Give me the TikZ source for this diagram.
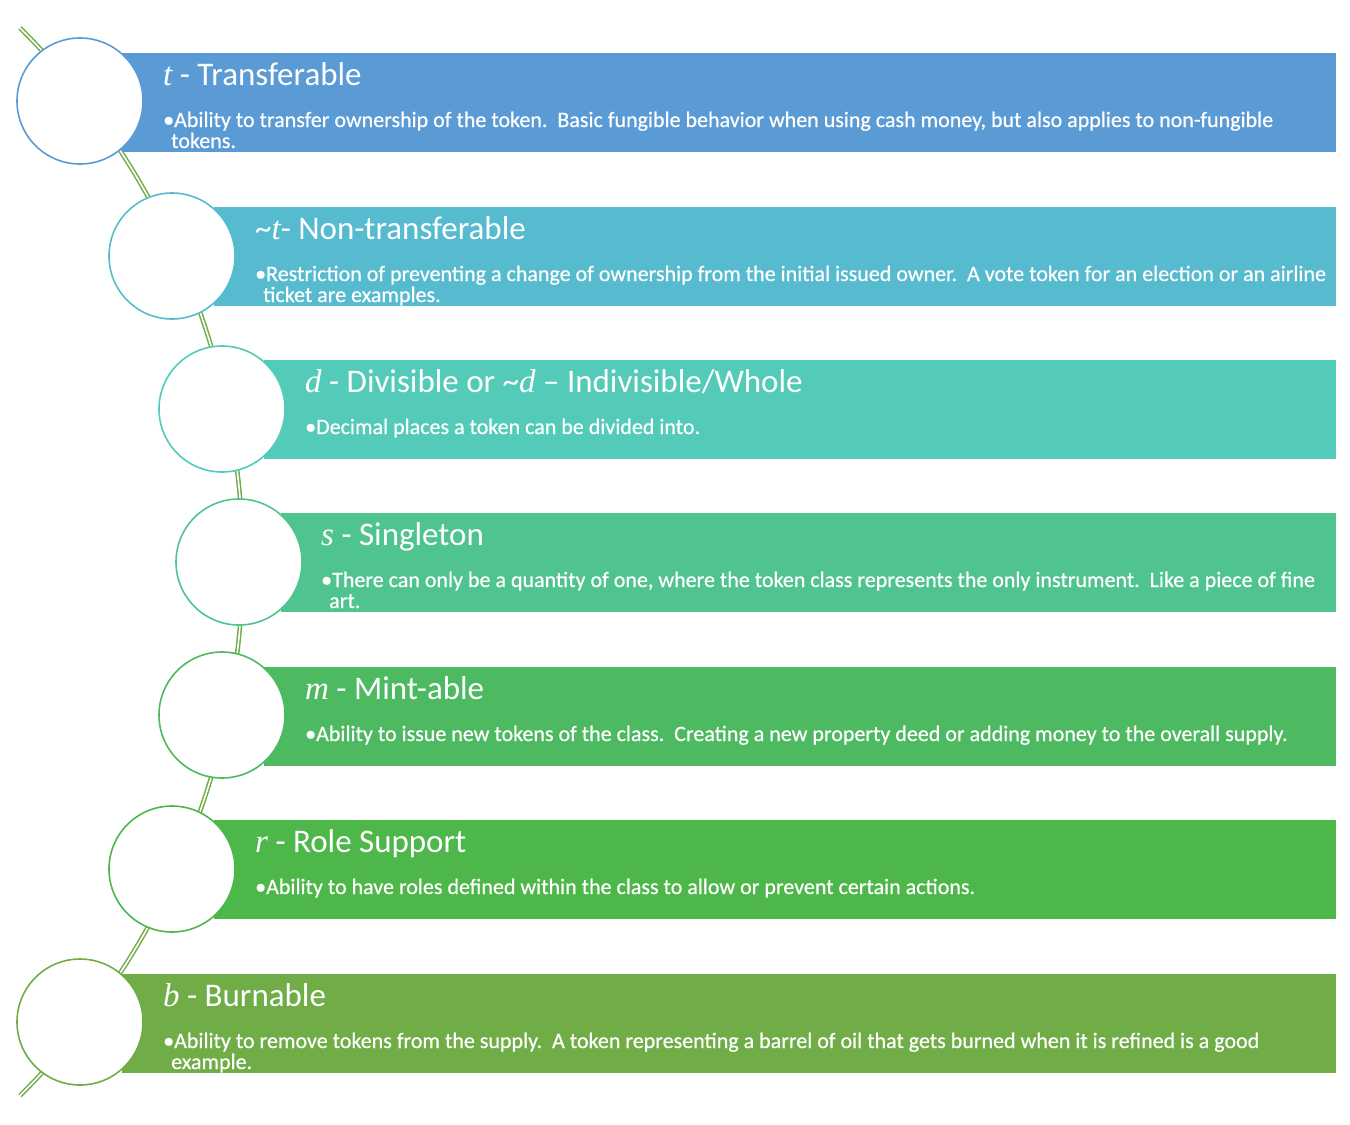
\documentclass[tikz,border=0pt]{standalone}
\usepackage{fontspec}
\setmainfont{Carlito}
\newfontfamily\bulfont{Carlito}[FakeBold=0.5]
\newfontfamily\varfont{Liberation Serif}
\newcommand{\mvar}[1]{{\varfont\itshape #1}}
\definecolor{c1}{HTML}{5B9BD5}
\definecolor{c2}{HTML}{57BBD0}
\definecolor{c3}{HTML}{53CBB8}
\definecolor{c4}{HTML}{50C48F}
\definecolor{c5}{HTML}{4DBA62}
\definecolor{c6}{HTML}{4EB74A}
\definecolor{c7}{HTML}{70AD47}
\definecolor{linegreen}{HTML}{70AD47}
\begin{document}
\begin{tikzpicture}[x=1pt,y=-1pt,
  band/.style={fill=#1, draw=none, anchor=north west, minimum height=99pt, inner sep=0pt},
  ring/.style={circle, draw=#1, fill=white, line width=1.6pt, minimum size=126pt, inner sep=0pt},
  ttl/.style={anchor=base west, inner sep=0pt, text=white, font=\fontsize{33}{37}\selectfont},
  txt/.style={anchor=base west, inner sep=0pt, text=white, font=\bulfont\fontsize{22}{25}\selectfont},
  spine/.style={draw=linegreen, line width=1.5pt, double=white, double distance=1.6pt}
]
\useasboundingbox (0,0) rectangle (1350,1125);
% spine arc
\coordinate (top) at (20,28);
\coordinate (bot) at (20,1095);
\draw[spine] (top) arc[start angle=-45.3, end angle=45.3, radius=751];
% rows
\newcommand{\rowband}[4]{% name, cx, top, color
  \node[band=#4, minimum width={1336-(#2+42)}] (r#1) at ({#2+42},#3) {};
}
\rowband{1}{80}{53}{c1}
\rowband{2}{172}{207}{c2}
\rowband{3}{222}{360}{c3}
\rowband{4}{239}{513}{c4}
\rowband{5}{222}{667}{c5}
\rowband{6}{172}{820}{c6}
\rowband{7}{80}{974}{c7}
\node[ring=c1] (k1) at (80,101) {};
\node[ring=c2] (k2) at (172,256) {};
\node[ring=c3] (k3) at (222,409) {};
\node[ring=c4] (k4) at (239,562) {};
\node[ring=c5] (k5) at (222,715) {};
\node[ring=c6] (k6) at (172,869) {};
\node[ring=c7] (k7) at (80,1022) {};
% texts
\node[ttl] (t1) at (163,85) {\mvar{t} - Transferable};
\node[txt] (a1) at (163,127) {•Ability to transfer ownership of the token.\ \ Basic fungible behavior when using cash money, but also applies to non-fungible};
\node[txt] (b1) at (171,148) {tokens.};
\node[ttl] (t2) at (255,239) {\textasciitilde\mvar{t}- Non-transferable};
\node[txt] (a2) at (255,281) {•Restriction of preventing a change of ownership from the initial issued owner.\ \ A vote token for an election or an airline};
\node[txt] (b2) at (263,302) {ticket are examples.};
\node[ttl] (t3) at (305,392) {\mvar{d} - Divisible or \textasciitilde\mvar{d} – Indivisible/Whole};
\node[txt] (a3) at (305,434) {•Decimal places a token can be divided into.};
\node[ttl] (t4) at (321,545) {\mvar{s} - Singleton};
\node[txt] (a4) at (321,587) {•There can only be a quantity of one, where the token class represents the only instrument.\ \ Like a piece of fine};
\node[txt] (b4) at (329,608) {art.};
\node[ttl] (t5) at (305,699) {\mvar{m} - Mint-able};
\node[txt] (a5) at (305,741) {•Ability to issue new tokens of the class.\ \ Creating a new property deed or adding money to the overall supply.};
\node[ttl] (t6) at (255,852) {\mvar{r} - Role Support};
\node[txt] (a6) at (255,894) {•Ability to have roles defined within the class to allow or prevent certain actions.};
\node[ttl] (t7) at (163,1006) {\mvar{b} - Burnable};
\node[txt] (a7) at (163,1048) {•Ability to remove tokens from the supply.\ \ A token representing a barrel of oil that gets burned when it is refined is a good};
\node[txt] (b7) at (171,1069) {example.};
\end{tikzpicture}
\end{document}
